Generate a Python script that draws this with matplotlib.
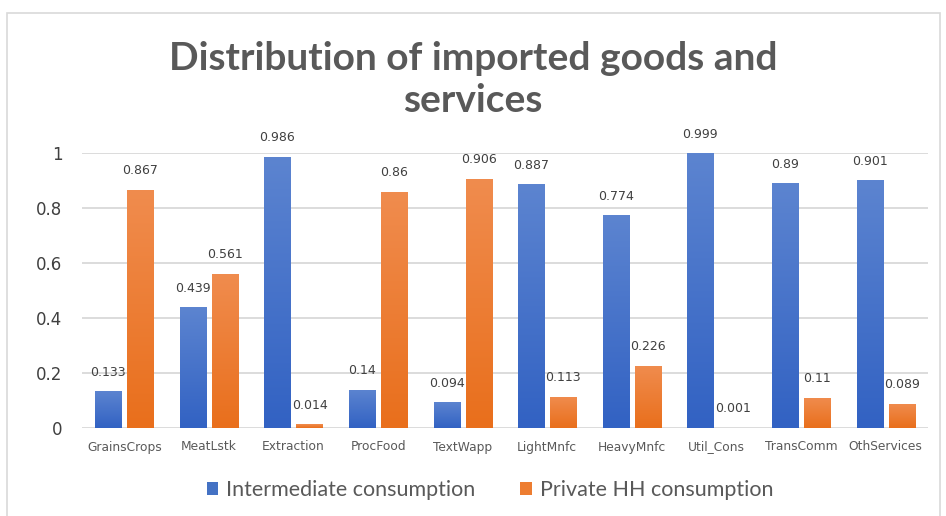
import matplotlib
matplotlib.use("Agg")
import matplotlib.pyplot as plt
import numpy as np
from matplotlib.colors import LinearSegmentedColormap
from matplotlib.patches import Rectangle

categories = ["GrainsCrops", "MeatLstk", "Extraction", "ProcFood", "TextWapp",
              "LightMnfc", "HeavyMnfc", "Util_Cons", "TransComm", "OthServices"]
intermediate = [0.133, 0.439, 0.986, 0.14, 0.094, 0.887, 0.774, 0.999, 0.89, 0.901]
private_hh = [0.867, 0.561, 0.014, 0.86, 0.906, 0.113, 0.226, 0.001, 0.11, 0.089]
yticks = [0, 0.2, 0.4, 0.6, 0.8, 1]
ytick_labels = ["0", "0.2", "0.4", "0.6", "0.8", "1"]

blue = "#4472C4"
orange = "#ED7D31"
blue_grad = LinearSegmentedColormap.from_list("b", ["#3262C3", "#5C84D0"])
orange_grad = LinearSegmentedColormap.from_list("o", ["#E96F1C", "#F08C4E"])

fig = plt.figure(figsize=(9.46, 5.16), dpi=100)
fig.patches.append(Rectangle((7 / 946, -0.01), 933 / 946, 1 - 13 / 516 + 0.01,
                             transform=fig.transFigure, fill=False,
                             edgecolor="#d9d9d9", linewidth=1.2))
ax = fig.add_axes([82 / 946, 88 / 516, 846 / 946, 275 / 516])

x = np.arange(len(categories))
w = 0.31
gap = 0.035
b1 = ax.bar(x - w / 2 - gap, intermediate, w, color=blue, label="Intermediate consumption", zorder=2)
b2 = ax.bar(x + w / 2 + gap, private_hh, w, color=orange, label="Private HH consumption", zorder=2)

# excel-like vertical gradient fill
grad = np.linspace(0, 1, 100).reshape(-1, 1)
for bars, cmap in ((b1, blue_grad), (b2, orange_grad)):
    for r in bars:
        x0, y0 = r.get_x(), r.get_y()
        im = ax.imshow(grad, cmap=cmap, origin="lower", aspect="auto",
                       extent=(x0, x0 + r.get_width(), y0, y0 + max(r.get_height(), 0.004)),
                       zorder=2.5)
        im.set_clip_path(r)

for bars, vals in ((b1, intermediate), (b2, private_hh)):
    for r, v in zip(bars, vals):
        ax.annotate(f"{v:g}", (r.get_x() + r.get_width() / 2, v), xytext=(0, 9),
                    textcoords="offset points", ha="center", va="bottom",
                    fontsize=9, color="#404040", annotation_clip=False)

ax.set_xlim(-0.5, len(categories) - 0.5)
ax.set_ylim(0, 1)
ax.set_yticks(yticks)
ax.set_yticklabels(ytick_labels, fontsize=12, color="#404040")
ax.set_xticks(x)
ax.set_xticklabels(categories, fontsize=8.8, color="#595959")
ax.tick_params(axis="both", length=0)
ax.tick_params(axis="y", pad=14)
ax.tick_params(axis="x", pad=9)
ax.grid(axis="y", color="#d9d9d9", linewidth=1.3, zorder=0)
ax.set_axisbelow(True)
for s in ax.spines.values():
    s.set_visible(False)

fig.text(0.5, 1 - 58 / 516, "Distribution of imported goods and", ha="center", va="center",
         fontsize=28, fontweight="bold", color="#595959", family="Lato")
fig.text(0.5, 1 - 101 / 516, "services", ha="center", va="center",
         fontsize=28, fontweight="bold", color="#595959", family="Lato")

leg = fig.legend(handles=[b1, b2], loc="center", bbox_to_anchor=(490 / 946, 1 - 490 / 516),
                 ncol=2, frameon=False, prop={"family": "Lato", "size": 15.5},
                 handlelength=0.55, handleheight=0.55, handletextpad=0.35, columnspacing=2.1)
for t in leg.get_texts():
    t.set_color("#595959")

fig.savefig("out.png", dpi=100)
